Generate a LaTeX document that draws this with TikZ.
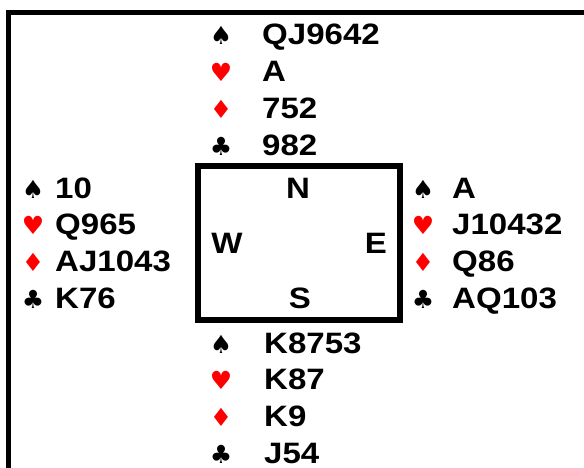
\documentclass[tikz,border=0pt]{standalone}
\usepackage{fontspec}
\setmainfont{Liberation Sans}
\newfontfamily\rankfont{Liberation Sans}[FakeStretch=1.12]
\newfontfamily\suitfont{DejaVu Sans}
\usepackage{xcolor}
\usetikzlibrary{positioning}
\definecolor{suitred}{HTML}{FF0000}
\tikzset{
  rank/.style={anchor=base west, inner sep=0pt, font=\rankfont\fontsize{29.5}{31}\selectfont\bfseries},
  suitblk/.style={anchor=base, inner sep=0pt, font=\fontsize{25}{27}\selectfont\suitfont},
  suitrd/.style={suitblk, text=suitred},
  compass/.style={anchor=base, inner sep=0pt, font=\rankfont\fontsize{29.5}{31}\selectfont\bfseries},
  frame/.style={line width=5.5pt, draw=black},
}
% one hand: name, suit x, rank x, first baseline, spades, hearts, diamonds, clubs
\newcommand{\hand}[8]{%
  \node[suitblk] (#1S) at (#2,#4) {♠};
  \node[rank] (#1Sr) at (#3,#4) {#5};
  \node[suitrd] (#1H) at (#2,#4+36.7) {♥};
  \node[rank] (#1Hr) at (#3,#4+36.7) {#6};
  \node[suitrd] (#1D) at (#2,#4+73.4) {♦};
  \node[rank] (#1Dr) at (#3,#4+73.4) {#7};
  \node[suitblk] (#1C) at (#2,#4+110.1) {♣};
  \node[rank] (#1Cr) at (#3,#4+110.1) {#8};
}
\begin{document}
\begin{tikzpicture}[x=1pt, y=-1pt]
  \clip (0,0) rectangle (584,468);
  % outer frame, open to the right and bottom
  \draw[frame] (8.5,480) -- (8.5,12.5) -- (600,12.5);
  % table
  \draw[frame, line width=6pt] (198,166) rectangle (400,320);
  \node[compass] (north) at (298,198) {N};
  \node[compass] (west) at (227,253) {W};
  \node[compass] (east) at (376,253) {E};
  \node[compass] (south) at (300,308) {S};
  % hands
  \hand{n}{221}{262}{45}{QJ9642}{A}{752}{982}
  \hand{w}{33}{55}{198}{10}{Q965}{AJ1043}{K76}
  \hand{e}{423}{452}{198}{A}{J10432}{Q86}{AQ103}
  \hand{s}{221}{264}{353}{K8753}{K87}{K9}{J54}
\end{tikzpicture}
\end{document}
